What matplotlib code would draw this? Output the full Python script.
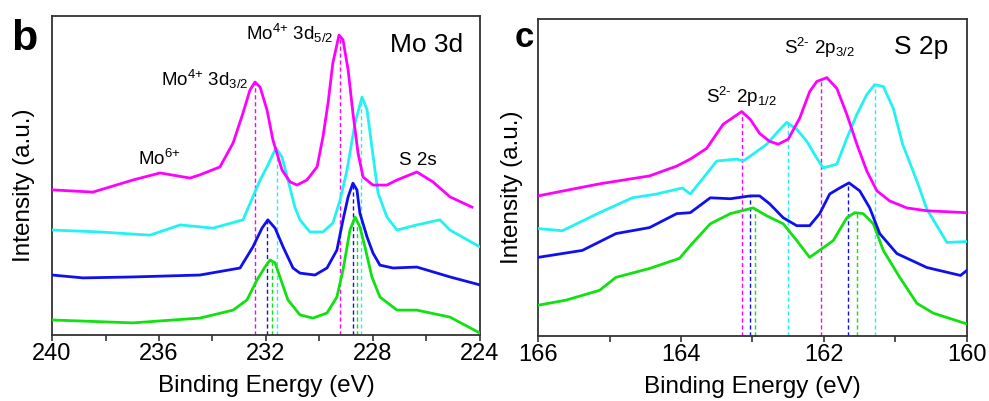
import numpy as np
import matplotlib
matplotlib.use("Agg")
import matplotlib.pyplot as plt

plt.rcParams['font.family'] = ['Liberation Sans', 'DejaVu Sans']
plt.rcParams['mathtext.fontset'] = 'custom'
plt.rcParams['mathtext.rm'] = 'Liberation Sans'
plt.rcParams['mathtext.it'] = 'Liberation Sans'

# ---- Mo 3d panel (b) ----
mo_mag_e = [240, 238.47, 236.97, 235.96, 234.84, 234.47, 233.72, 233.23, 232.86, 232.60,
            232.41, 232.22, 231.96, 231.74, 231.40, 231.10, 230.84, 230.47, 230.09, 229.87,
            229.68, 229.50, 229.27, 229.12, 228.93, 228.75, 228.56, 228.37, 228.0, 227.48,
            227.10, 226.36, 225.76, 225.12, 224.30]
mo_mag_i = [45.5, 44.8, 48.6, 50.8, 49.2, 50.2, 52.7, 60.2, 69.6, 76.8,
            79.3, 77.7, 70.5, 61.1, 51.7, 48.0, 47.0, 48.6, 52.7, 62.1,
            72.7, 85.3, 94.0, 92.5, 83.1, 69.6, 57.1, 49.5, 47.0, 47.0,
            48.6, 51.1, 48.0, 43.3, 40.1]

mo_cyan_e = [240, 238.21, 236.34, 235.21, 233.98, 232.86, 232.49, 232.22, 231.96, 231.63,
             231.40, 231.18, 230.92, 230.73, 230.36, 229.87, 229.50, 229.23, 228.97, 228.67,
             228.41, 228.22, 228.04, 227.81, 227.48, 227.10, 226.36, 225.50, 225.12, 224.0]
mo_cyan_i = [32.9, 32.3, 31.3, 34.5, 33.5, 36.1, 43.3, 48.6, 52.7, 58.6,
             55.8, 48.6, 40.1, 36.1, 32.3, 32.3, 35.1, 42.3, 51.7, 66.5,
             74.6, 70.5, 58.9, 44.5, 37.0, 32.9, 34.5, 36.1, 32.9, 27.6]

mo_blue_e = [240, 238.84, 236.97, 234.47, 232.97, 232.49, 232.15, 231.93, 231.66, 231.36,
             230.99, 230.73, 230.17, 229.72, 229.35, 229.12, 228.93, 228.75, 228.60, 228.49,
             228.22, 228.0, 227.74, 227.25, 226.36, 225.12, 224.0]
mo_blue_i = [18.8, 17.9, 18.2, 18.8, 21.0, 27.6, 33.5, 36.1, 33.5, 27.6,
             21.0, 19.4, 18.8, 21.0, 26.6, 36.1, 43.3, 47.6, 45.5, 38.2,
             30.7, 25.7, 21.9, 21.0, 21.3, 18.2, 15.7]

mo_green_e = [240, 236.97, 234.47, 233.23, 232.71, 232.34, 232.04, 231.85, 231.66, 231.48,
              231.18, 230.73, 230.24, 229.72, 229.35, 229.12, 228.86, 228.67, 228.49, 228.30,
              228.04, 227.74, 227.10, 226.36, 225.12, 224.0]
mo_green_i = [4.7, 3.8, 5.3, 7.8, 11.0, 17.2, 21.3, 23.5, 22.6, 18.2,
              11.0, 6.3, 5.3, 6.9, 11.9, 20.4, 32.9, 37.0, 33.9, 27.6,
              18.2, 11.9, 7.8, 7.8, 5.6, 0.6]

mo_peaks_mag = [232.41, 229.23]
mo_peaks_cyan = [231.59, 228.45]
mo_peaks_blue = [231.96, 228.75]
mo_peaks_green = [231.78, 228.60]

# ---- S 2p panel (c) ----
s_mag_e = [166.0, 165.14, 164.44, 164.06, 163.87, 163.64, 163.41, 163.15, 163.03, 162.90,
           162.76, 162.64, 162.50, 162.34, 162.20, 162.10, 161.96, 161.82, 161.68, 161.54,
           161.40, 161.26, 161.08, 160.84, 160.56, 160.0]
s_mag_i = [44.2, 48.0, 50.5, 53.6, 55.8, 59.2, 66.8, 70.8, 68.3, 63.9,
           61.4, 60.5, 62.1, 68.7, 77.1, 80.3, 81.5, 78.1, 69.9, 60.5,
           52.0, 45.8, 42.6, 40.4, 39.5, 38.9]

s_cyan_e = [166.0, 165.66, 165.14, 164.68, 164.34, 163.98, 163.87, 163.69, 163.50, 163.22,
            163.13, 162.99, 162.80, 162.64, 162.52, 162.38, 162.24, 162.10, 162.01, 161.82,
            161.68, 161.54, 161.40, 161.29, 161.17, 161.03, 160.90, 160.70, 160.56, 160.28,
            160.0]
s_cyan_i = [33.9, 33.2, 38.9, 43.6, 44.8, 46.7, 44.8, 49.8, 55.2, 55.8,
            55.2, 57.4, 60.5, 64.6, 67.4, 65.2, 61.4, 56.1, 53.0, 54.2,
            62.4, 69.9, 76.2, 79.3, 78.7, 71.8, 60.5, 48.9, 40.0, 29.5,
            29.8]

s_blue_e = [166.0, 165.38, 164.91, 164.44, 164.06, 163.87, 163.59, 163.31, 163.03, 162.90,
            162.76, 162.57, 162.38, 162.20, 162.06, 161.92, 161.78, 161.65, 161.50, 161.36,
            161.22, 160.98, 160.56, 160.09, 160.0]
s_blue_i = [24.8, 27.0, 32.3, 34.2, 38.6, 38.9, 43.6, 43.3, 44.2, 44.2,
            41.7, 37.3, 34.8, 34.8, 38.6, 44.8, 46.7, 48.3, 45.8, 40.4,
            32.3, 26.0, 21.6, 19.1, 20.7]

s_green_e = [166.0, 165.61, 165.14, 164.91, 164.44, 164.02, 163.87, 163.59, 163.31, 162.99,
             162.80, 162.57, 162.38, 162.20, 161.87, 161.68, 161.57, 161.45, 161.31, 161.17,
             160.94, 160.70, 160.47, 160.0]
s_green_i = [9.7, 11.3, 14.4, 18.5, 21.3, 24.5, 28.5, 35.4, 38.6, 40.4,
             37.9, 35.4, 30.1, 24.8, 30.1, 37.3, 38.9, 38.6, 35.4, 27.0,
             18.5, 10.3, 7.2, 3.8]

s_peaks_mag = [163.15, 162.04]
s_peaks_cyan = [162.51, 161.29]
s_peaks_blue = [163.04, 161.66]
s_peaks_green = [162.97, 161.54]

c_mag = '#ff00ff'
c_cyan = '#22f2f2'
c_blue = '#1010ee'
c_green = '#11e011'

fig = plt.figure(figsize=(9.89, 4.01), dpi=100)
ax1 = fig.add_axes([0.0526, 0.1646, 0.4327, 0.7955])
ax2 = fig.add_axes([0.5440, 0.1621, 0.4337, 0.7905])


def draw_panel(ax, curves, xlim, major, minor):
    for e, inten, peaks, col in curves:
        ax.plot(e, inten, color=col, lw=2.0, zorder=3)
        for p in peaks:
            h = np.interp(p, e[::-1], inten[::-1])
            ax.plot([p, p], [0, h], color=col, lw=1.0, ls=(0, (3, 2)), zorder=2)
    ax.set_xlim(*xlim)
    ax.set_ylim(0, 100)
    ax.set_xticks(major)
    ax.set_xticks(minor, minor=True)
    ax.set_yticks([])
    ax.tick_params(axis='x', which='both', direction='out', length=4, width=1.2,
                   color='#333333', labelsize=17, pad=2)
    for sp in ax.spines.values():
        sp.set_color('#333333')
        sp.set_linewidth(1.3)
    ax.set_xlabel('Binding Energy (eV)', fontsize=17.5, labelpad=7)
    ax.set_ylabel('Intensity (a.u.)', fontsize=17.5)


draw_panel(ax1,
           [(mo_green_e, mo_green_i, mo_peaks_green, c_green),
            (mo_blue_e, mo_blue_i, mo_peaks_blue, c_blue),
            (mo_cyan_e, mo_cyan_i, mo_peaks_cyan, c_cyan),
            (mo_mag_e, mo_mag_i, mo_peaks_mag, c_mag)],
           (240, 224), [240, 236, 232, 228, 224], [238, 234, 230, 226])
ax1.set_xticklabels(['240', '236', '232', '228', '224'])
ax1.yaxis.set_label_coords(-0.040, 0.47)

draw_panel(ax2,
           [(s_green_e, s_green_i, s_peaks_green, c_green),
            (s_blue_e, s_blue_i, s_peaks_blue, c_blue),
            (s_cyan_e, s_cyan_i, s_peaks_cyan, c_cyan),
            (s_mag_e, s_mag_i, s_peaks_mag, c_mag)],
           (166, 160), [166, 164, 162, 160], [165, 163, 161])
ax2.set_xticklabels(['166', '164', '162', '160'])
ax2.yaxis.set_label_coords(-0.035, 0.47)

fs = 13.5
ax1.text(231.10, 92.6, r'Mo$^{\text{4+}}$ 3d$_{\text{5/2}}$', fontsize=fs, ha='center', va='baseline')
ax1.text(234.28, 78.2, r'Mo$^{\text{4+}}$ 3d$_{\text{3/2}}$', fontsize=fs, ha='center', va='baseline')
ax1.text(236.0, 53.2, r'Mo$^{\text{6+}}$', fontsize=fs, ha='center', va='baseline')
ax1.text(226.32, 53.2, 'S 2s', fontsize=fs, ha='center', va='baseline')
ax1.text(226.0, 88.7, 'Mo 3d', fontsize=19, ha='center', va='baseline')

ax2.text(162.06, 89.1, r'S$^{\text{2-}}$ 2p$_{\text{3/2}}$', fontsize=fs, ha='center', va='baseline')
ax2.text(163.16, 73.4, r'S$^{\text{2-}}$ 2p$_{\text{1/2}}$', fontsize=fs, ha='center', va='baseline')
ax2.text(160.64, 89.0, 'S 2p', fontsize=19, ha='center', va='baseline')

fig.text(0.011, 0.875, 'b', fontsize=31, fontweight='bold', ha='left', va='baseline')
fig.text(0.5207, 0.883, 'c', fontsize=25, fontweight='bold', ha='left', va='baseline')

fig.savefig('out.png', dpi=100)
